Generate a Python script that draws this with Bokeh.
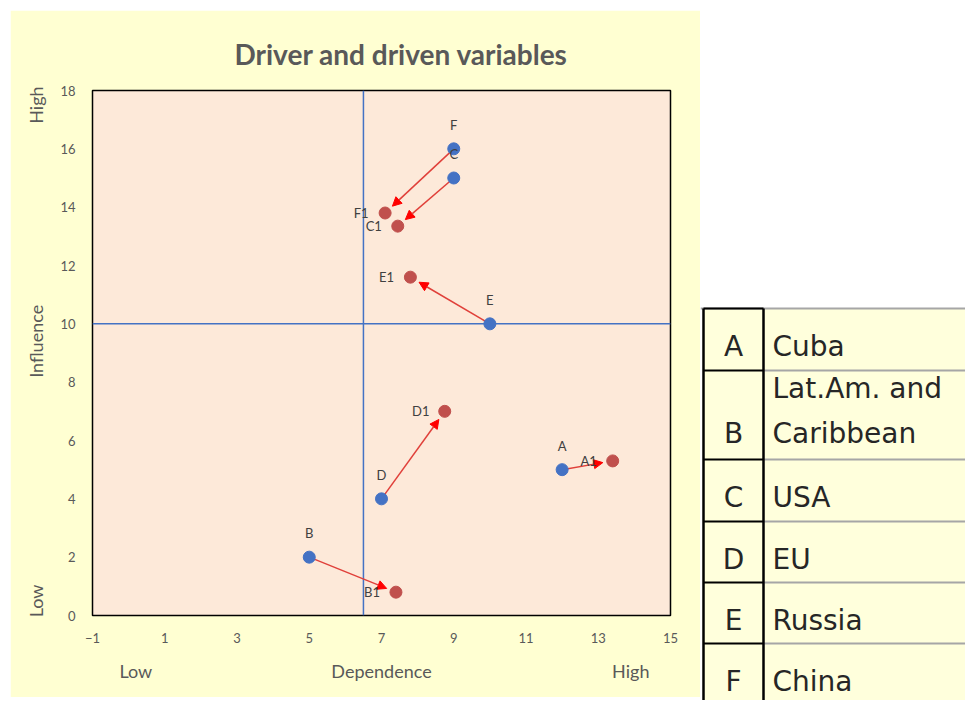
import math
from bokeh.plotting import figure
from bokeh.models import (Range1d, FixedTicker, Span, Arrow, NormalHead,
                          ColumnDataSource, LinearAxis)
from bokeh.layouts import row
from bokeh.embed import file_html
from bokeh.resources import INLINE
from bokeh.core.properties import value

# ---------------- data ----------------
codes = ["A", "B", "C", "D", "E", "F"]
dependence_now = [12.0, 5.0, 9.0, 7.0, 10.0, 9.0]
influence_now = [5.0, 2.0, 15.0, 4.0, 10.0, 16.0]
future_codes = ["A1", "B1", "C1", "D1", "E1", "F1"]
dependence_future = [13.4, 7.4, 7.45, 8.75, 7.8, 7.1]
influence_future = [5.3, 0.8, 13.35, 7.0, 11.6, 13.8]
names = ["Cuba", "Lat.Am. and\nCaribbean", "USA", "EU", "Russia", "China"]
x_ticks = [-1, 1, 3, 5, 7, 9, 11, 13, 15]
y_ticks = [0, 2, 4, 6, 8, 10, 12, 14, 16, 18]
x_threshold = 6.5
y_threshold = 10
# axis titles (shown along the axes at these positions)
x_titles = {0.2: "Low", 7.0: "Dependence", 13.9: "High"}
y_titles = {0.5: "Low", 9.4: "Influence", 17.5: "High"}

# ---------------- styles ----------------
CHART_BG = "#FFFFD2"
PLOT_BG = "#FDE9D9"
BLUE = "#4472C4"
RED = "#C0504D"
GREY = "#595959"
FONT = value("Lato")

XMIN, XMAX, YMIN, YMAX = -1, 15, 0, 18
FW, FH = 578, 525

p = figure(frame_width=FW, frame_height=FH,
           x_range=Range1d(XMIN, XMAX), y_range=Range1d(YMIN, YMAX),
           output_backend="svg", toolbar_location=None,
           min_border_left=82, min_border_right=30,
           min_border_top=80, min_border_bottom=82,
           background_fill_color=PLOT_BG, border_fill_color=CHART_BG,
           outline_line_color="black", outline_line_width=1.5,
           margin=(10, 0, 0, 10))
p.frame_align = False
p.xgrid.visible = False
p.ygrid.visible = False

p.title.text = "Driver and driven variables"
p.title.align = "left"
p.title.offset = 142
p.title.text_font = "Lato"
p.title.text_font_size = "28px"
p.title.text_font_style = "bold"
p.title.text_color = GREY
p.title.standoff = 40


def style_axis(ax, size):
    ax.axis_line_color = None
    ax.major_tick_line_color = None
    ax.minor_tick_line_color = None
    ax.major_label_text_font = "Lato"
    ax.major_label_text_font_size = size
    ax.major_label_text_color = GREY


for ax in (p.xaxis, p.yaxis):
    style_axis(ax, "13px")
p.xaxis.ticker = FixedTicker(ticks=x_ticks)
p.yaxis.ticker = FixedTicker(ticks=y_ticks)
p.xaxis.major_label_standoff = 11
p.yaxis.major_label_standoff = 11

xt = LinearAxis(ticker=FixedTicker(ticks=list(x_titles.keys())),
                major_label_overrides=x_titles)
style_axis(xt, "18px")
xt.major_label_standoff = 8
p.add_layout(xt, "below")

yt = LinearAxis(ticker=FixedTicker(ticks=list(y_titles.keys())),
                major_label_overrides=y_titles, major_label_orientation="vertical")
style_axis(yt, "18px")
yt.major_label_standoff = 4
p.add_layout(yt, "left")

# threshold lines
p.add_layout(Span(location=x_threshold, dimension="height", line_color=BLUE,
                  line_width=1.5, level="underlay"))
p.add_layout(Span(location=y_threshold, dimension="width", line_color=BLUE,
                  line_width=1.5, level="underlay"))

# arrows (shortened so the head stops just before the future point)
sx = FW / (XMAX - XMIN)
sy = FH / (YMAX - YMIN)
gap = 10.0
xe, ye = [], []
for x0, y0, x1, y1 in zip(dependence_now, influence_now,
                          dependence_future, influence_future):
    L = math.hypot((x1 - x0) * sx, (y1 - y0) * sy)
    f = (L - gap) / L
    xe.append(x0 + (x1 - x0) * f)
    ye.append(y0 + (y1 - y0) * f)
arrow_src = ColumnDataSource(dict(x0=dependence_now, y0=influence_now, x1=xe, y1=ye))
p.add_layout(Arrow(end=NormalHead(size=9, fill_color="#FF0000", line_color="#FF0000"),
                   x_start="x0", y_start="y0", x_end="x1", y_end="y1",
                   source=arrow_src, line_color="#E0403A", line_width=1.5,
                   level="underlay"))

now_src = ColumnDataSource(dict(x=dependence_now, y=influence_now, t=codes))
fut_src = ColumnDataSource(dict(x=dependence_future, y=influence_future, t=future_codes))
p.scatter("x", "y", source=now_src, size=12, fill_color=BLUE, line_color=BLUE)
p.scatter("x", "y", source=fut_src, size=12, fill_color=RED, line_color=RED)
p.text("x", "y", text="t", source=now_src, y_offset=-24, text_align="center",
       text_baseline="middle", text_font=FONT, text_font_size="13px",
       text_color="#404040")
p.text("x", "y", text="t", source=fut_src, x_offset=-24, text_align="center",
       text_baseline="middle", text_font=FONT, text_font_size="13px",
       text_color="#404040")

# ---------------- table ----------------
TX0, TW, TH = 700, 265, 700
t = figure(width=TW, height=TH, x_range=Range1d(TX0, TX0 + TW),
           y_range=Range1d(TH, 0), output_backend="svg",
           toolbar_location=None, min_border=0, x_axis_type=None,
           y_axis_type=None, outline_line_color=None,
           background_fill_color="white", border_fill_color="white")
t.frame_align = False
t.grid.visible = False

table_top = 308
row_heights = [62, 89, 62, 61, 61, 61]
col_left, col_mid, col_right = 703, 763, TX0 + TW + 5
bounds = [table_top]
for h in row_heights:
    bounds.append(bounds[-1] + h)

t.quad(left=[col_left], right=[col_right], top=[table_top], bottom=[bounds[-1] + 10],
       fill_color="#FFFFDC", line_color=None)
t.segment(x0=[TX0] + [col_mid] * (len(bounds) - 2), x1=[col_right] * (len(bounds) - 1),
          y0=bounds[:-1], y1=bounds[:-1], line_color="#A6A6A6", line_width=2)
t.segment(x0=[col_left] * (len(bounds) - 1), x1=[col_mid] * (len(bounds) - 1),
          y0=bounds[:-1], y1=bounds[:-1], line_color="black", line_width=2)
t.segment(x0=[col_left, col_mid], x1=[col_left, col_mid],
          y0=[table_top, table_top], y1=[bounds[-1] + 10, bounds[-1] + 10],
          line_color="black", line_width=2.5)

lx, ly, lt, nx, ny, nt = [], [], [], [], [], []
for i, (c, n) in enumerate(zip(codes, names)):
    center = (bounds[i] + bounds[i + 1]) / 2
    lines = n.split("\n")
    last = center + 7 + (len(lines) - 1) * 11
    lx.append(733); ly.append(last); lt.append(c)
    for j, s in enumerate(lines):
        nx.append(772)
        ny.append(last - (len(lines) - 1 - j) * 45)
        nt.append(s)
t.text(x=lx, y=ly, text=lt, text_align="center", text_baseline="middle",
       text_font=value("DejaVu Sans"), text_font_size="28px", text_color="#262626")
t.text(x=nx, y=ny, text=nt, text_align="left", text_baseline="middle",
       text_font=value("DejaVu Sans"), text_font_size="28px", text_color="#262626")

layout = row(p, t, spacing=0)
open("out.html", "w").write(file_html(layout, INLINE))
